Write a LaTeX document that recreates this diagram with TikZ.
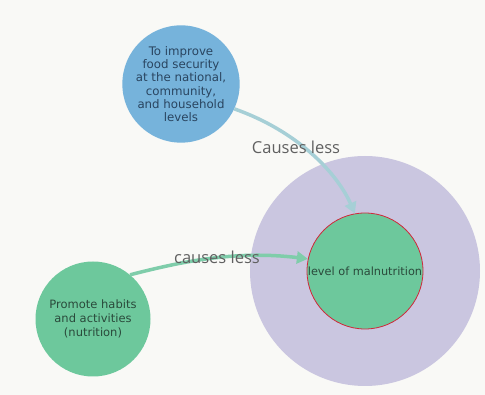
\documentclass[tikz,border=0pt]{standalone}
\usepackage{fontspec}
\setmainfont{Open Sans}
\newfontfamily\nodefont{DejaVu Sans}
\usetikzlibrary{arrows.meta}
\definecolor{bgc}{HTML}{F9F9F6}
\definecolor{bluec}{HTML}{76B3DB}
\definecolor{greenc}{HTML}{6DC89C}
\definecolor{purplec}{HTML}{CAC6E0}
\definecolor{redc}{HTML}{D0283A}
\definecolor{bluetxt}{HTML}{2A4560}
\definecolor{greentxt}{HTML}{2A4A3B}
\definecolor{labelc}{HTML}{606060}
\definecolor{bluearrow}{HTML}{A6CFD6}
\definecolor{greenarrow}{HTML}{7FCDAA}
\tikzset{
  circ/.style={circle, draw=none, inner sep=0pt, align=center},
  lbl/.style={font=\fontsize{16.5}{18}\selectfont, text=labelc, inner sep=0pt},
  conn/.style={line width=3.5pt, -{Triangle[length=11pt,width=12pt]}},
}
\begin{document}
\begin{tikzpicture}[x=1pt,y=-1pt]
\fill[bgc] (0,0) rectangle (485,395);
\useasboundingbox (0,0) rectangle (485,395);
\node[circ, fill=purplec, minimum size=230pt] (outer) at (365,271) {};
\node[circ, fill=greenc, draw=redc, line width=0.8pt, minimum size=116pt,
      font=\nodefont\fontsize{11.3}{12}\selectfont, text=greentxt] (mal) at (365,271) {level of malnutrition};
\node[circ, fill=bluec, minimum size=115pt, text=bluetxt,
      font=\nodefont\fontsize{11.8}{13.3}\selectfont] (food) at (181,84)
  {To improve\\food security\\at the national,\\community,\\and household\\levels};
\node[circ, fill=greenc, minimum size=115pt, text=greentxt,
      font=\nodefont\fontsize{11.5}{14}\selectfont] (habits) at (93,319)
  {Promote habits\\and activities\\(nutrition)};
\draw[conn, bluearrow] (food.-25) .. controls (300,132) and (338,175) .. (mal.100);
\draw[conn, greenarrow] (habits.50) .. controls (180,262) and (235,250) .. (mal.168);
\node[lbl] (l1) at (296,147) {Causes less};
\node[lbl] (l2) at (217,257) {causes less};
\end{tikzpicture}
\end{document}
